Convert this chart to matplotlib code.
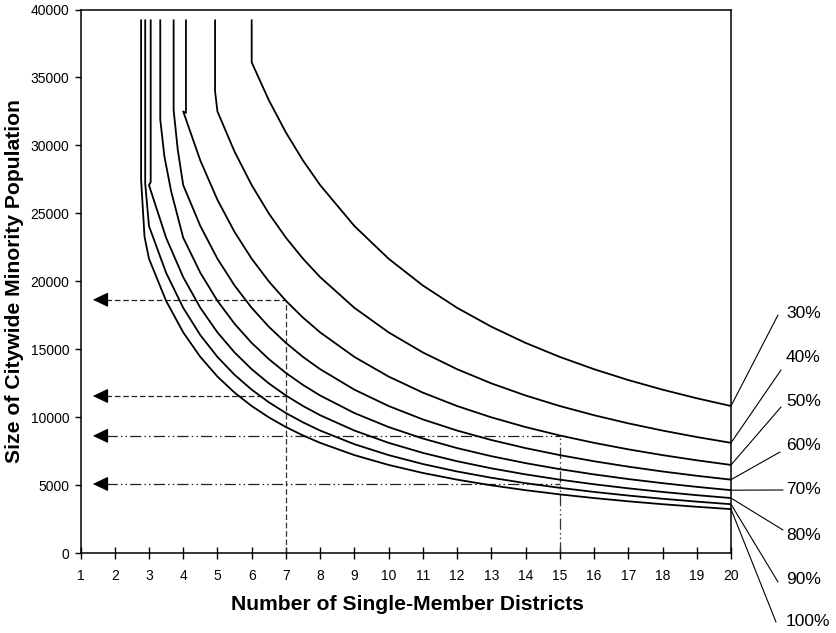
import matplotlib
matplotlib.use("Agg")
import matplotlib.pyplot as plt
import numpy as np

plt.rcParams['font.family'] = ['Liberation Sans', 'DejaVu Sans']

# ---------------- data ----------------
series_labels = ["30%", "40%", "50%", "60%", "70%", "80%", "90%", "100%"]

x_body = [3, 3.5, 4, 4.5, 5, 5.5, 6, 6.5, 7, 7.5, 8, 9, 10, 11, 12, 13, 14,
          15, 16, 17, 18, 19, 20]
nan = float("nan")
y_30 = [nan, nan, nan, nan, nan, nan, 36111, 33333, 30952, 28889, 27083, 24074,
        21667, 19697, 18056, 16667, 15476, 14444, 13542, 12745, 12037, 11404, 10833]
y_40 = [nan, nan, nan, nan, 32500, 29545, 27083, 25000, 23214, 21667, 20313, 18056,
        16250, 14773, 13542, 12500, 11607, 10833, 10156, 9559, 9028, 8553, 8125]
y_50 = [nan, nan, 32500, 28889, 26000, 23636, 21667, 20000, 18571, 17333, 16250, 14444,
        13000, 11818, 10833, 10000, 9286, 8667, 8125, 7647, 7222, 6842, 6500]
y_60 = [nan, nan, 27083, 24074, 21667, 19697, 18056, 16667, 15476, 14444, 13542, 12037,
        10833, 9848, 9028, 8333, 7738, 7222, 6771, 6373, 6019, 5702, 5417]
y_70 = [nan, nan, 23214, 20635, 18571, 16883, 15476, 14286, 13265, 12381, 11607, 10317,
        9286, 8442, 7738, 7143, 6633, 6190, 5804, 5462, 5159, 4887, 4643]
y_80 = [27083, 23214, 20313, 18056, 16250, 14773, 13542, 12500, 11607, 10833, 10156, 9028,
        8125, 7386, 6771, 6250, 5804, 5417, 5078, 4779, 4514, 4276, 4063]
y_90 = [24074, 20635, 18056, 16049, 14444, 13131, 12037, 11111, 10317, 9630, 9028, 8025,
        7222, 6566, 6019, 5556, 5159, 4815, 4514, 4248, 4012, 3801, 3611]
y_100 = [21667, 18571, 16250, 14444, 13000, 11818, 10833, 10000, 9286, 8667, 8125, 7222,
         6500, 5909, 5417, 5000, 4643, 4333, 4063, 3824, 3611, 3421, 3250]

# upper (near-vertical) parts of each curve, ending at the first body point
top_x_30 = [6.0, 6.0];              top_y_30 = [39200, 36400]
top_x_40 = [4.93, 4.93];            top_y_40 = [39200, 34000]
top_x_50 = [4.08, 4.08];            top_y_50 = [39200, 32400]
top_x_60 = [3.72, 3.72, 3.84];      top_y_60 = [39200, 32600, 29700]
top_x_70 = [3.33, 3.33, 3.45, 3.65]; top_y_70 = [39200, 31900, 29200, 26600]
top_x_80 = [3.05, 3.05];            top_y_80 = [39200, 27300]
top_x_90 = [2.89, 2.89];            top_y_90 = [39200, 27200]
top_x_100 = [2.77, 2.77, 2.87];     top_y_100 = [39200, 27470, 23290]

# reading examples (dashed = 7 districts, dash-dot = 15 districts)
dash_x = 7
dash_levels = [18650, 11570]
dashdot_x = 15
dashdot_levels = [8640, 5100]

x_ticks = list(range(1, 21))
y_ticks = list(range(0, 40001, 5000))

bodies = [y_30, y_40, y_50, y_60, y_70, y_80, y_90, y_100]
tops_x = [top_x_30, top_x_40, top_x_50, top_x_60, top_x_70, top_x_80, top_x_90, top_x_100]
tops_y = [top_y_30, top_y_40, top_y_50, top_y_60, top_y_70, top_y_80, top_y_90, top_y_100]

# ---------------- figure ----------------
W, H = 836, 633
fig = plt.figure(figsize=(W / 100, H / 100), dpi=100)
L, R, T, B = 80.5, 731.0, 9.5, 553.3
ax = fig.add_axes([L / W, (H - B) / H, (R - L) / W, (B - T) / H])

for yb, tx, ty in zip(bodies, tops_x, tops_y):
    xb = [x for x, v in zip(x_body, yb) if not np.isnan(v)]
    vb = [v for v in yb if not np.isnan(v)]
    ax.plot(list(tx) + xb, list(ty) + vb, color="black", lw=1.3,
            solid_joinstyle="round", zorder=3)

dash_style = (0, (4.5, 2.2))
dashdot_style = (0, (9, 2.5, 1.2, 2.5, 1.2, 2.5))
arrow_tip = 1.36
arrow_base = 1.75

for lvl in dash_levels:
    ax.plot([arrow_base, dash_x], [lvl, lvl], color="#222222", lw=0.9,
            linestyle=dash_style, zorder=2)
    ax.annotate("", xy=(arrow_tip, lvl), xytext=(arrow_base, lvl),
                arrowprops=dict(arrowstyle="-|>,head_length=0.95,head_width=0.45",
                                color="black", lw=0.9, shrinkA=0, shrinkB=0))
ax.plot([dash_x, dash_x], [0, max(dash_levels)], color="#333333", lw=0.9,
        linestyle=dash_style, zorder=2)

for lvl in dashdot_levels:
    ax.plot([arrow_base, dashdot_x], [lvl, lvl], color="#222222", lw=0.9,
            linestyle=dashdot_style, zorder=2)
    ax.annotate("", xy=(arrow_tip, lvl), xytext=(arrow_base, lvl),
                arrowprops=dict(arrowstyle="-|>,head_length=0.95,head_width=0.45",
                                color="black", lw=0.9, shrinkA=0, shrinkB=0))
ax.plot([dashdot_x, dashdot_x], [0, max(dashdot_levels)], color="#333333", lw=0.9,
        linestyle=dashdot_style, zorder=2)

ax.set_xlim(1, 20)
ax.set_ylim(0, 40000)
ax.set_xticks(x_ticks)
ax.set_xticklabels([str(t) for t in x_ticks])
ax.set_yticks(y_ticks)
ax.set_yticklabels([str(t) for t in y_ticks])
ax.tick_params(axis="x", direction="inout", length=8, width=1, pad=7, labelsize=10)
ax.tick_params(axis="y", direction="out", length=4, width=1, pad=4, labelsize=10)
for s in ax.spines.values():
    s.set_linewidth(1.1)

fig.text(407 / W, 1 - 605 / H, "Number of Single-Member Districts", ha="center",
         va="center", fontsize=15.2, fontweight="bold")
fig.text(15 / W, 1 - 281 / H, "Size of Citywide Minority Population", ha="center",
         va="center", rotation=90, fontsize=15.2, fontweight="bold")

# right-hand labels with leader lines
label_pos = [(786, 313), (786, 357), (786, 401), (786, 445), (786, 489),
             (786, 535), (786, 579), (786, 622)]
leader_end = [(778, 315), (781, 370), (781, 407), (780, 452), (783, 490),
              (783, 530), (778, 582), (776, 622)]
for lab, yb, (tx, ty), (lx, ly) in zip(series_labels, bodies, label_pos, leader_end):
    ax.annotate("", xy=(20, yb[-1]), xycoords="data",
                xytext=(lx, H - ly), textcoords="figure pixels",
                arrowprops=dict(arrowstyle="-", color="black", lw=0.8,
                                shrinkA=0, shrinkB=0),
                annotation_clip=False)
    fig.text(tx / W, 1 - ty / H, lab, ha="left", va="center", fontsize=12.5)

fig.savefig("out.png", dpi=100)
